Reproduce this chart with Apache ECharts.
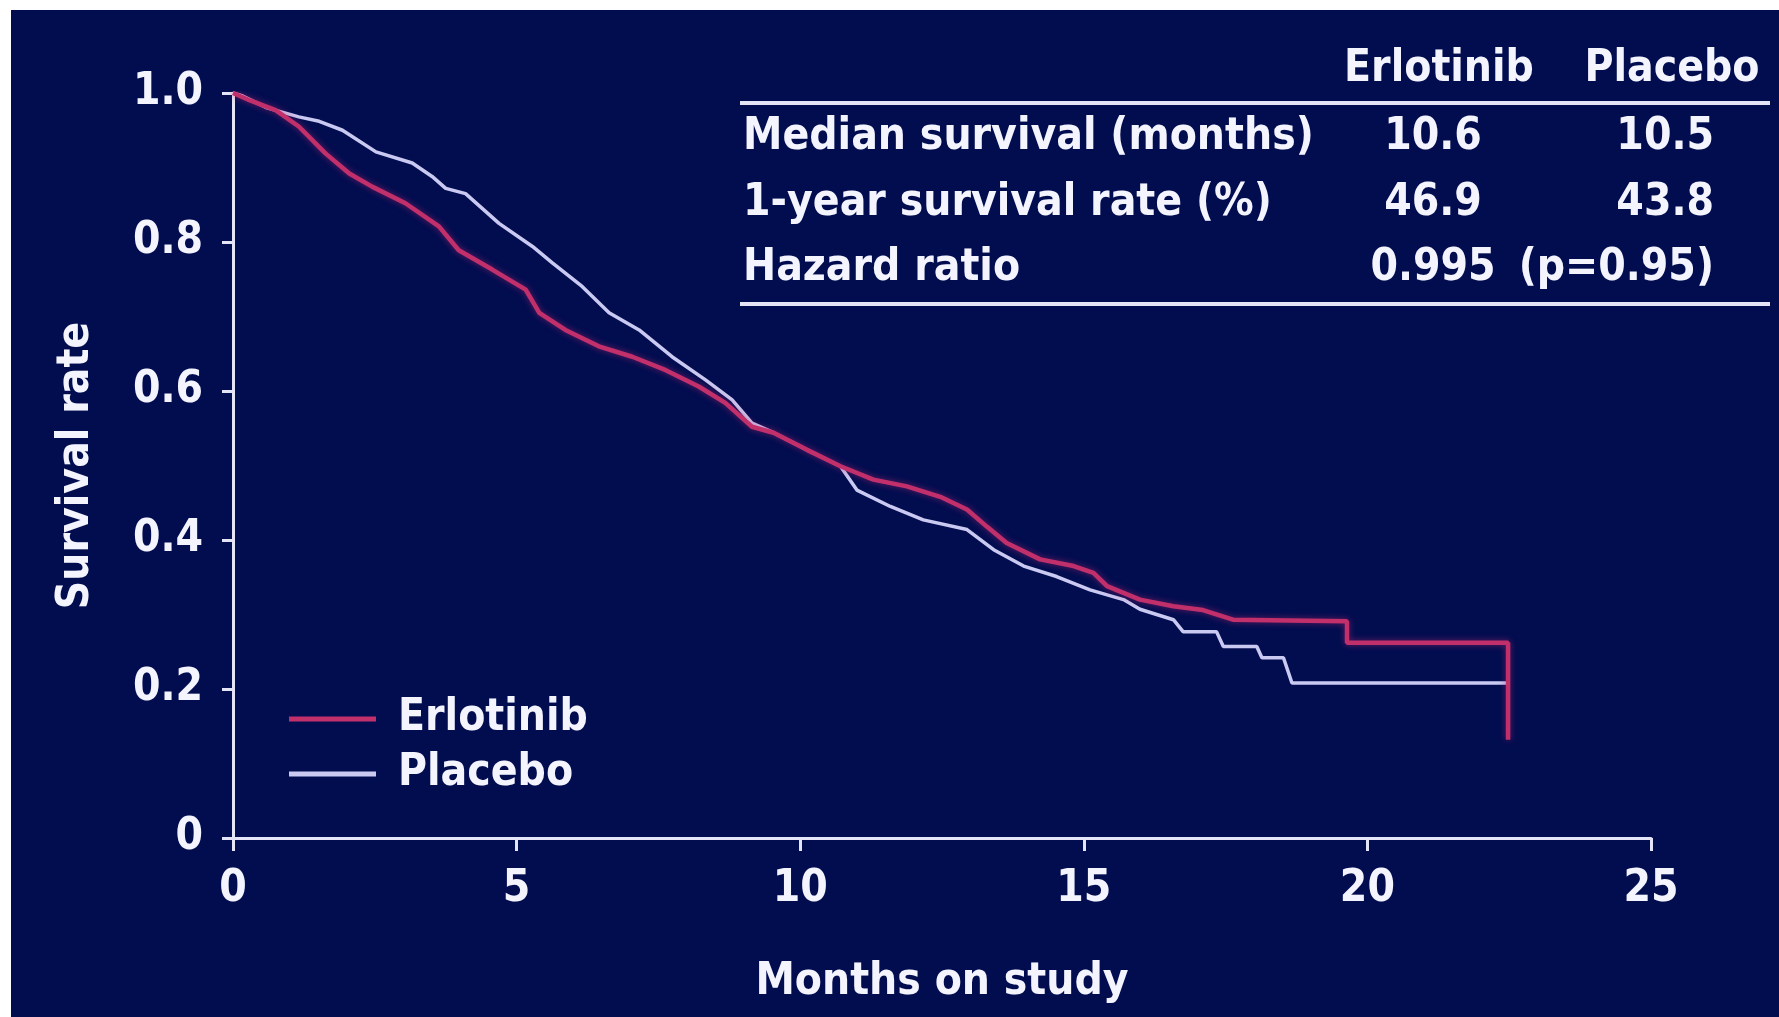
<!DOCTYPE html>
<html>
<head>
<meta charset="utf-8">
<script src="https://cdn.jsdelivr.net/npm/echarts@6/dist/echarts.min.js"></script>
<style>
  html, body { margin: 0; padding: 0; background: #ffffff; }
  #panel { position: absolute; left: 11px; top: 10px; width: 1768px; height: 1007px; background: #020d50; }
  #chart { position: absolute; left: 0; top: 0; width: 1779px; height: 1017px; }
</style>
</head>
<body>
<div id="panel"></div>
<div id="chart"></div>
<script>
// Kaplan-Meier overall survival, months on study vs survival rate
const erlotinibCurve = [
  [0, 1.0], [0.3, 0.99], [0.75, 0.977], [1.16, 0.955], [1.63, 0.919], [2.05, 0.892],
  [2.46, 0.874], [3.04, 0.852], [3.63, 0.821], [3.98, 0.789], [4.57, 0.763], [5.16, 0.736],
  [5.40, 0.705], [5.86, 0.682], [6.45, 0.660], [7.04, 0.646], [7.63, 0.628], [8.21, 0.606],
  [8.68, 0.584], [9.15, 0.552], [9.53, 0.544], [10.12, 0.521], [10.71, 0.499], [11.29, 0.481],
  [11.88, 0.472], [12.47, 0.458], [12.94, 0.441], [13.29, 0.418], [13.64, 0.396], [14.23, 0.374],
  [14.82, 0.365], [15.17, 0.356], [15.41, 0.338], [15.99, 0.320], [16.58, 0.311], [17.10, 0.306],
  [17.63, 0.293], [19.64, 0.291], [19.64, 0.262], [22.48, 0.262], [22.48, 0.132]
];
const placeboCurve = [
  [0, 1.0], [0.17, 0.996], [0.6, 0.98], [1.16, 0.968], [1.52, 0.962], [1.93, 0.950],
  [2.52, 0.921], [3.16, 0.906], [3.51, 0.888], [3.75, 0.872], [4.10, 0.865], [4.69, 0.825],
  [5.28, 0.794], [5.63, 0.772], [6.16, 0.740], [6.63, 0.705], [7.16, 0.682], [7.74, 0.646],
  [8.33, 0.615], [8.80, 0.588], [9.15, 0.557], [9.53, 0.544], [10.12, 0.521], [10.71, 0.499],
  [11.0, 0.467], [11.59, 0.445], [12.17, 0.427], [12.94, 0.414], [13.41, 0.387], [13.94, 0.365],
  [14.52, 0.351], [15.11, 0.333], [15.70, 0.320], [15.99, 0.307], [16.58, 0.293], [16.75, 0.277],
  [17.34, 0.277], [17.46, 0.257], [18.05, 0.257], [18.14, 0.242], [18.52, 0.242], [18.67, 0.208],
  [22.46, 0.208]
];
const seriesNames = ['Erlotinib', 'Placebo'];
const xTicks = [0, 5, 10, 15, 20, 25];
const yTickLabels = ['0', '0.2', '0.4', '0.6', '0.8', '1.0'];
const tableHeader = ['Erlotinib', 'Placebo'];
const tableRows = [
  ['Median survival (months)', '10.6', '10.5'],
  ['1-year survival rate (%)', '46.9', '43.8'],
  ['Hazard ratio', '0.995', '(p=0.95)']
];

const FONT = "'DejaVu Sans Condensed', 'DejaVu Sans', sans-serif";
const FS = 44;
const TEXT = '#f4f4ff';
const AXIS = '#e4e4f6';
const RED = '#c2306c';
const LAV = '#c9c9f2';

const textStyle = { color: TEXT, fontFamily: FONT, fontSize: FS, fontWeight: 'bold' };
const font = `bold ${FS}px ${FONT}`;

// summary table drawn as graphic text and rules
const graphic = [];
const tableLeft = 743, ruleLeft = 740, ruleRight = 1770;
const colCenter = 1433, colRight = 1714;
const headerY = 70, rowY = [138, 204, 269];
graphic.push({ type: 'text', style: { x: 1439, y: headerY, text: tableHeader[0], align: 'center', verticalAlign: 'middle', fill: TEXT, font: font } });
graphic.push({ type: 'text', style: { x: 1672, y: headerY, text: tableHeader[1], align: 'center', verticalAlign: 'middle', fill: TEXT, font: font } });
graphic.push({ type: 'rect', shape: { x: ruleLeft, y: 101, width: ruleRight - ruleLeft, height: 4 }, style: { fill: AXIS } });
graphic.push({ type: 'rect', shape: { x: ruleLeft, y: 302, width: ruleRight - ruleLeft, height: 4 }, style: { fill: AXIS } });
tableRows.forEach((row, i) => {
  graphic.push({ type: 'text', style: { x: tableLeft, y: rowY[i], text: row[0], align: 'left', verticalAlign: 'middle', fill: TEXT, font: font } });
  graphic.push({ type: 'text', style: { x: colCenter, y: rowY[i], text: row[1], align: 'center', verticalAlign: 'middle', fill: TEXT, font: font } });
  graphic.push({ type: 'text', style: { x: colRight, y: rowY[i], text: row[2], align: 'right', verticalAlign: 'middle', fill: TEXT, font: font } });
});

const chart = echarts.init(document.getElementById('chart'), null, { renderer: 'canvas' });
chart.setOption({
  backgroundColor: 'transparent',
  animation: false,
  grid: { left: 233, top: 93, width: 1418, height: 745, containLabel: false },
  legend: {
    orient: 'vertical',
    left: 284,
    top: 692,
    itemWidth: 87,
    itemHeight: 5,
    itemGap: 11,
    icon: 'rect',
    selectedMode: false,
    textStyle: Object.assign({}, textStyle, { padding: [0, 0, 0, 17] }),
    data: [
      { name: seriesNames[0], itemStyle: { color: RED } },
      { name: seriesNames[1], itemStyle: { color: LAV } }
    ]
  },
  xAxis: {
    type: 'value',
    min: xTicks[0],
    max: xTicks[xTicks.length - 1],
    interval: 5,
    name: 'Months on study',
    nameLocation: 'middle',
    nameGap: 123,
    nameTextStyle: textStyle,
    axisLine: { show: true, onZero: false, lineStyle: { color: AXIS, width: 3 } },
    axisTick: { show: true, length: 13, lineStyle: { color: AXIS, width: 3 } },
    splitLine: { show: false },
    axisLabel: Object.assign({}, textStyle, { margin: 30 })
  },
  yAxis: {
    type: 'value',
    min: 0,
    max: 1,
    interval: 0.2,
    name: 'Survival rate',
    nameLocation: 'middle',
    nameGap: 134,
    nameTextStyle: textStyle,
    axisLine: { show: true, onZero: false, lineStyle: { color: AXIS, width: 3 } },
    axisTick: { show: true, length: 11, lineStyle: { color: AXIS, width: 3 } },
    splitLine: { show: false },
    axisLabel: Object.assign({}, textStyle, {
      margin: 30,
      formatter: (v) => yTickLabels[Math.round(v / 0.2)]
    })
  },
  series: [
    {
      name: seriesNames[1],
      type: 'line',
      data: placeboCurve,
      showSymbol: false,
      symbol: 'none',
      itemStyle: { color: LAV },
      lineStyle: { color: LAV, width: 3.5 },
      z: 2
    },
    {
      name: seriesNames[0],
      type: 'line',
      data: erlotinibCurve,
      showSymbol: false,
      symbol: 'none',
      itemStyle: { color: RED },
      lineStyle: { color: RED, width: 4.5, shadowBlur: 6, shadowColor: 'rgba(200,40,110,0.55)' },
      z: 3
    }
  ],
  graphic: graphic
});
</script>
</body>
</html>
